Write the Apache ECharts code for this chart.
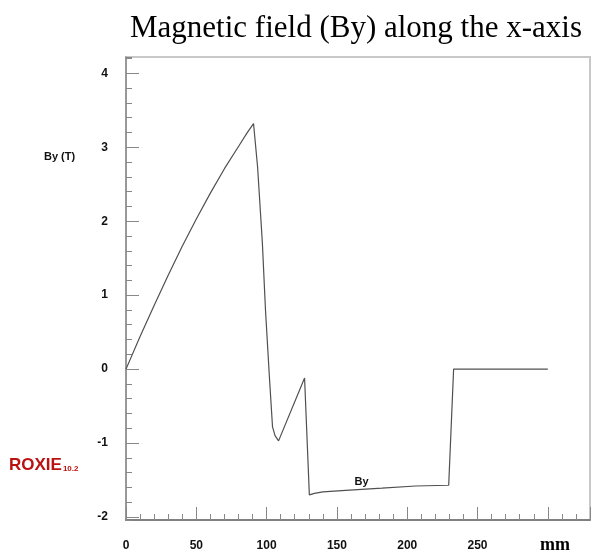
<!DOCTYPE html>
<html>
<head>
<meta charset="utf-8">
<script src="https://cdn.jsdelivr.net/npm/echarts@6/dist/echarts.min.js"></script>
<style>
  html, body { margin: 0; padding: 0; background: #fff; }
  #chart { width: 593px; height: 554px; }
</style>
</head>
<body>
<div id="chart"></div>
<script>
// position along x (mm) and field By (T)
const posMm = [0, 10, 20, 30, 40, 50, 60, 70, 80, 86, 90.7, 93.6, 97, 99.2, 102, 104.2, 106, 108.5, 127, 130.4, 134, 140, 159, 182, 206, 229.5, 233, 300];
const byT   = [0, 0.44, 0.86, 1.27, 1.66, 2.03, 2.38, 2.71, 3.01, 3.19, 3.32, 2.73, 1.70, 0.80, -0.11, -0.78, -0.90, -0.97, -0.12, -1.70, -1.68, -1.66, -1.635, -1.61, -1.58, -1.57, 0, 0];

const xRange = [0, 330];
const yRange = [-2.04, 4.22];
const xLabelLast = 250;   // 300 is not labelled, "mm" sits there
const seriesLabel = 'By';
const labelAt = [167.5, -1.53];

const lineData = posMm.map((x, i) => [x, byT[i]]);

var myChart = echarts.init(document.getElementById('chart'));

const tickFont = {
  color: '#111',
  fontFamily: 'Liberation Sans, Arial, sans-serif',
  fontWeight: 'bold',
  fontSize: 12
};

var option = {
  animation: false,
  title: {
    text: 'Magnetic field (By) along the x-axis',
    left: 351,
    textAlign: 'center',
    top: 8,
    textStyle: {
      fontFamily: 'Liberation Serif, Times New Roman, serif',
      fontWeight: 'normal',
      fontSize: 31,
      color: '#000'
    }
  },
  grid: {
    left: 126,
    right: 2,
    top: 57,
    bottom: 34,
    show: true,
    borderColor: '#c8c8c8',
    borderWidth: 2
  },
  xAxis: [
    {
      type: 'value',
      min: xRange[0],
      max: xRange[1],
      interval: 50,
      axisLine: { onZero: false, lineStyle: { color: '#808080', width: 2 } },
      axisTick: { inside: true, length: 13, lineStyle: { color: '#888' } },
      axisLabel: Object.assign({
        margin: 20,
        formatter: v => (v % 50 === 0 && v <= xLabelLast ? String(v) : '')
      }, tickFont),
      splitLine: { show: false }
    },
    {
      // minor ticks every 10 mm
      type: 'value',
      position: 'bottom',
      min: xRange[0],
      max: xRange[1],
      interval: 10,
      axisLine: { show: false, onZero: false },
      axisTick: { inside: true, length: 6, lineStyle: { color: '#888' } },
      axisLabel: { show: false },
      splitLine: { show: false }
    }
  ],
  yAxis: [
    {
      type: 'value',
      min: yRange[0],
      max: yRange[1],
      minInterval: 1,
      maxInterval: 1,
      axisLine: { show: true, onZero: false, lineStyle: { color: '#888', width: 1.5 } },
      axisTick: { inside: true, length: 13, lineStyle: { color: '#888' } },
      axisLabel: Object.assign({
        margin: 18,
        showMinLabel: false,
        showMaxLabel: false,
        formatter: v => (Number.isInteger(v) ? String(v) : '')
      }, tickFont),
      splitLine: { show: false }
    },
    {
      // minor ticks every 0.2 T
      type: 'value',
      position: 'left',
      min: yRange[0],
      max: yRange[1],
      minInterval: 0.2,
      maxInterval: 0.2,
      axisLine: { show: false, onZero: false },
      axisTick: { inside: true, length: 6, lineStyle: { color: '#888' } },
      axisLabel: { show: false },
      splitLine: { show: false }
    }
  ],
  series: [
    {
      name: seriesLabel,
      type: 'line',
      data: lineData,
      showSymbol: false,
      lineStyle: { color: '#505050', width: 1.2 },
      markPoint: {
        symbolSize: 0,
        label: {
          show: true,
          formatter: seriesLabel,
          color: '#111',
          fontFamily: 'Liberation Sans, Arial, sans-serif',
          fontWeight: 'bold',
          fontSize: 11
        },
        data: [{ coord: labelAt }]
      }
    }
  ],
  graphic: [
    {
      type: 'text',
      left: 44,
      top: 151,
      style: {
        text: 'By (T)',
        fill: '#111',
        font: 'bold 11px "Liberation Sans", Arial, sans-serif'
      }
    },
    {
      type: 'text',
      left: 540,
      top: 536,
      style: {
        text: 'mm',
        fill: '#000',
        font: 'bold 18px "Liberation Serif", "Times New Roman", serif'
      }
    },
    {
      type: 'text',
      left: 9,
      top: 457,
      style: {
        text: '{a|ROXIE}{b|10.2}',
        rich: {
          a: { fill: '#bb1111', font: 'bold 17px "Liberation Sans", Arial, sans-serif', verticalAlign: 'bottom' },
          b: { fill: '#bb1111', font: 'bold 8px "Liberation Sans", Arial, sans-serif', verticalAlign: 'bottom', padding: [0, 0, 1, 1] }
        }
      }
    }
  ]
};

myChart.setOption(option);
</script>
</body>
</html>
